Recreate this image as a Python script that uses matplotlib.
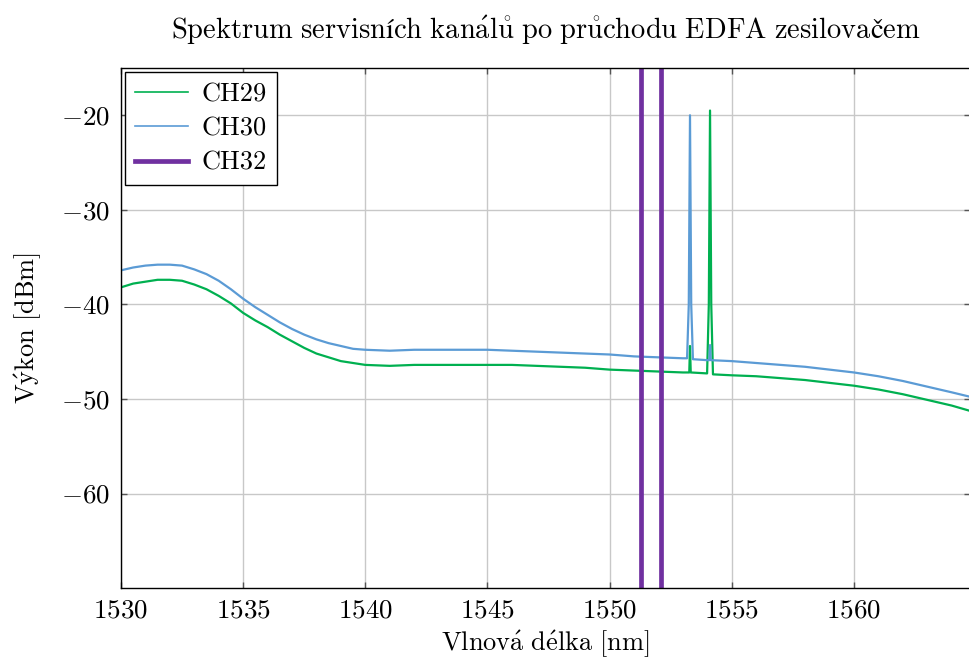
import numpy as np
import matplotlib
matplotlib.use("Agg")
from matplotlib import pyplot as plt
from matplotlib.lines import Line2D

plt.rcParams['font.family'] = ['cmr10', 'STIXGeneral']
plt.rcParams['mathtext.fontset'] = 'cm'
plt.rcParams['axes.formatter.use_mathtext'] = True
plt.rcParams['axes.unicode_minus'] = True

# CH30 (blue) - wavelength [nm] / power [dBm]
ch30_wl = [1530, 1530.5, 1531, 1531.5, 1532, 1532.5, 1533, 1533.5, 1534, 1534.5,
           1535, 1535.5, 1536, 1536.5, 1537, 1537.5, 1538, 1538.5, 1539, 1539.5,
           1540, 1541, 1542, 1543, 1544, 1545, 1546, 1547, 1548, 1549, 1550,
           1551, 1552, 1553, 1553.17, 1553.24, 1553.29, 1553.34, 1553.41,
           1554, 1554.08, 1554.11, 1554.14, 1555, 1556, 1557, 1558, 1559, 1560,
           1561, 1562, 1563, 1564, 1564.8]
ch30_p = [-36.4, -36.1, -35.9, -35.8, -35.8, -35.9, -36.3, -36.8, -37.5, -38.4,
          -39.4, -40.3, -41.1, -41.9, -42.6, -43.2, -43.7, -44.1, -44.4, -44.7,
          -44.8, -44.9, -44.8, -44.8, -44.8, -44.8, -44.9, -45.0, -45.1, -45.2, -45.3,
          -45.5, -45.6, -45.7, -45.7, -40.0, -20.0, -40.0, -45.8,
          -45.9, -45.9, -44.3, -45.9, -46.0, -46.2, -46.4, -46.6, -46.9, -47.2,
          -47.6, -48.1, -48.7, -49.3, -49.8]

# CH29 (green)
ch29_wl = [1530, 1530.5, 1531, 1531.5, 1532, 1532.5, 1533, 1533.5, 1534, 1534.5,
           1535, 1535.5, 1536, 1536.5, 1537, 1537.5, 1538, 1538.5, 1539, 1539.5,
           1540, 1541, 1542, 1543, 1544, 1545, 1546, 1547, 1548, 1549, 1550,
           1551, 1552, 1553, 1553.26, 1553.29, 1553.32,
           1553.99, 1554.06, 1554.11, 1554.16, 1554.23,
           1555, 1556, 1557, 1558, 1559, 1560, 1561, 1562, 1563, 1564, 1564.8]
ch29_p = [-38.2, -37.8, -37.6, -37.4, -37.4, -37.5, -37.9, -38.4, -39.1, -39.9,
          -40.9, -41.7, -42.4, -43.2, -43.9, -44.6, -45.2, -45.6, -46.0, -46.2,
          -46.4, -46.5, -46.4, -46.4, -46.4, -46.4, -46.4, -46.5, -46.6, -46.7, -46.9,
          -47.0, -47.1, -47.2, -47.2, -44.4, -47.2,
          -47.3, -40.0, -19.5, -40.0, -47.4,
          -47.5, -47.6, -47.8, -48.0, -48.3, -48.6, -49.0, -49.5, -50.1, -50.7, -51.3]

# CH32 (purple) - vertical markers
ch32_wl = [1551.3, 1552.1]

c_green = '#00b050'
c_blue = '#5b9bd5'
c_purple = '#7030a0'


def tex(s):
    # plain text -> mathtext in Computer Modern (keeps Czech accents in CM)
    rep = {' ': r'\ ', 'ý': r'\acute{y}', 'á': r'\acute{a}', 'é': r'\acute{e}',
           'ů': r'\mathring{u}'}
    out = ''.join(rep.get(ch, ch) for ch in s)
    return r'$\mathrm{' + out + '}$'


fig = plt.figure(figsize=(9.7, 6.6), dpi=100)
ax = fig.add_axes([0.1247, 0.109, 0.8753, 0.788])

ax.plot(ch29_wl, ch29_p, color=c_green, lw=1.6)
ax.plot(ch30_wl, ch30_p, color=c_blue, lw=1.6)
for w in ch32_wl:
    ax.plot([w, w], [-80, 0], color=c_purple, lw=3.4)

ax.set_xlim(1530, 1564.75)
ax.set_ylim(-70, -15)
ax.set_xticks(np.arange(1530, 1561, 5))
ax.set_yticks(np.arange(-60, -19, 10))
ax.grid(True, color='#c8c8c8', lw=1.0)
ax.set_axisbelow(True)
ax.tick_params(direction='in', length=4, width=1, color='#555555', labelsize=19.5,
               top=True, right=True, pad=8)
for s in ax.spines.values():
    s.set_linewidth(1.0)
    s.set_color('black')

ax.set_title(tex('Spektrum servisních kanálů po průchodu EDFA zesilovačem'),
             fontsize=20.5, pad=21)
ax.set_xlabel(tex('Vlnová délka [nm]'), fontsize=19, labelpad=4)
ax.set_ylabel(tex('Výkon [dBm]'), fontsize=19, labelpad=12)

handles = [Line2D([], [], color=c_green, lw=1.2),
           Line2D([], [], color=c_blue, lw=1.2),
           Line2D([], [], color=c_purple, lw=3.4)]
leg = ax.legend(handles, ['CH29', 'CH30', 'CH32'], loc='upper left', fontsize=19,
                fancybox=False, framealpha=1, edgecolor='black', borderaxespad=0.15,
                handlelength=2.0, handletextpad=0.5, labelspacing=0.4, borderpad=0.4)
leg.get_frame().set_linewidth(1.0)

plt.savefig('out.png', dpi=100)
plt.close()
